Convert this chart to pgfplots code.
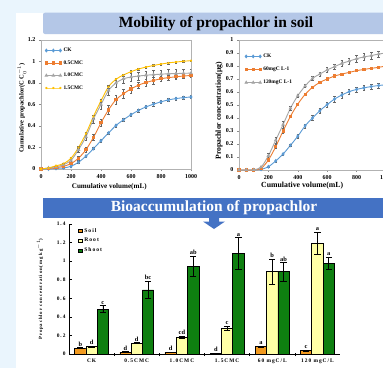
\documentclass[border=0pt]{standalone}
\usepackage{pgfplots}
\pgfplotsset{compat=1.18}
\usepackage{pgfplotstable}
\usepackage{fontspec}
\setmainfont{Liberation Serif}
\newfontfamily\spaced[LetterSpace=18]{Liberation Serif}
\definecolor{bgblue}{HTML}{EAF5FD}
\definecolor{banA}{HTML}{B4C7E7}
\definecolor{banB}{HTML}{4472C4}
\definecolor{ckblue}{HTML}{5B9BD5}
\definecolor{cmorange}{HTML}{ED7D31}
\definecolor{cmgray}{HTML}{A5A5A5}
\definecolor{cmyellow}{HTML}{FFC000}
\definecolor{soilc}{HTML}{F29A1F}
\definecolor{rootc}{HTML}{FFFFA6}
\definecolor{shootc}{HTML}{0E7F10}

\pgfplotstableread{
x ck ckE c05 c05E c10 c10E c15 c15E
0 0 0 0 0 0 0 0 0
50 0 0 0.005 0.002 0.01 0.003 0.01 0.003
100 0.005 0.002 0.012 0.003 0.02 0.005 0.03 0.005
150 0.01 0.003 0.025 0.005 0.04 0.008 0.05 0.006
200 0.025 0.004 0.05 0.008 0.08 0.012 0.10 0.008
250 0.063 0.006 0.10 0.015 0.18 0.02 0.20 0.01
300 0.12 0.008 0.18 0.02 0.30 0.03 0.33 0.012
350 0.19 0.01 0.295 0.03 0.465 0.04 0.49 0.015
400 0.263 0.012 0.43 0.035 0.60 0.04 0.635 0.015
450 0.335 0.012 0.55 0.04 0.73 0.04 0.765 0.012
500 0.405 0.015 0.645 0.045 0.80 0.04 0.835 0.01
550 0.458 0.015 0.70 0.04 0.84 0.04 0.875 0.01
600 0.505 0.015 0.745 0.035 0.855 0.04 0.905 0.01
650 0.545 0.015 0.78 0.03 0.865 0.04 0.93 0.008
700 0.578 0.015 0.805 0.03 0.872 0.04 0.948 0.008
750 0.603 0.015 0.823 0.03 0.878 0.04 0.963 0.008
800 0.625 0.015 0.84 0.025 0.882 0.04 0.976 0.008
850 0.643 0.015 0.85 0.025 0.886 0.04 0.987 0.008
900 0.655 0.015 0.858 0.02 0.888 0.04 0.995 0.008
950 0.664 0.015 0.865 0.02 0.89 0.04 1.002 0.008
1000 0.67 0.015 0.87 0.02 0.892 0.04 1.008 0.008
}\mobA

\pgfplotstableread{
x ck ckE a60 a60E a120 a120E
0 0 0 0 0 0 0
50 0 0 0 0 0 0
100 0 0 0 0 0.002 0.002
150 0.005 0.002 0.012 0.004 0.022 0.01
200 0.025 0.004 0.077 0.01 0.11 0.02
250 0.07 0.006 0.18 0.015 0.23 0.025
300 0.123 0.008 0.30 0.02 0.35 0.025
350 0.19 0.01 0.413 0.01 0.475 0.015
400 0.26 0.012 0.507 0.008 0.572 0.012
450 0.34 0.015 0.582 0.008 0.646 0.012
500 0.40 0.018 0.636 0.008 0.705 0.015
550 0.456 0.02 0.674 0.006 0.738 0.015
600 0.503 0.022 0.70 0.006 0.77 0.018
650 0.546 0.022 0.723 0.006 0.795 0.02
700 0.577 0.022 0.738 0.006 0.82 0.022
750 0.603 0.02 0.751 0.006 0.838 0.025
800 0.62 0.02 0.764 0.006 0.856 0.025
850 0.632 0.018 0.774 0.006 0.87 0.025
900 0.642 0.018 0.782 0.006 0.88 0.025
950 0.65 0.018 0.79 0.006 0.892 0.025
1000 0.656 0.018 0.80 0.006 0.90 0.025
}\mobB

\pgfplotstableread{
x soil soilE soilL root rootE rootL shoot shootE shootL
0 0.064 0.004 b 0.078 0.005 d 0.483 0.036 c
1 0.021 0.003 d 0.115 0.005 d 0.691 0.093 bc
2 0.018 0.003 d 0.178 0.015 cd 0.945 0.11 ab
3 0.005 0.002 d 0.276 0.024 c 1.084 0.17 a
4 0.079 0.006 a 0.886 0.135 b 0.886 0.10 ab
5 0.036 0.004 c 1.19 0.12 a 0.98 0.065 a
}\bardata

\pgfplotsset{
 lineax/.style={scale only axis, anchor=south west,
  axis line style={black!30}, tick style={black!45, line width=0.4pt},
  tick align=outside, major tick length=2pt,
  xtick pos=bottom, ytick pos=left,
  /pgf/number format/assume math mode=true,
  /pgf/number format/1000 sep={},
  ticklabel style={font=\bfseries\fontsize{6}{6}\selectfont},
  xtick={0,200,400,600,800,1000}, xmin=0, xmax=1000, ymin=0,
  legend cell align=left,
  legend image code/.code={\draw[##1] plot coordinates {(0pt,0pt) (7pt,0pt) (14pt,0pt)};},
 },
 errsty/.style={error bars/.cd, y dir=both, y explicit,
  error bar style={black!60, line width=0.35pt, solid},
  error mark options={rotate=90, mark size=1.2pt, black!60, line width=0.35pt}},
}

\begin{document}
\begin{tikzpicture}[x=1pt,y=1pt]
\useasboundingbox (0,0) rectangle (383,368);
\clip (0,0) rectangle (383,368);
\fill[bgblue] (0,0) rectangle (383,368);
\fill[white] (16,0) rectangle (383,355.3);
\fill[banA, rounded corners=2pt] (43,334) rectangle (400,355.3);
\node[font=\bfseries\fontsize{15.5}{16}\selectfont] at (216,344.5) {Mobility of propachlor in soil};
\fill[banB] (43,149.7) rectangle (400,169.7);
\node[white, font=\bfseries\fontsize{15.5}{16}\selectfont] at (214,160) {Bioaccumulation of propachlor};
\fill[banB] (209,150) -- (219,150) -- (219,146.5) -- (225,146.5) -- (214,139) -- (203,146.5) -- (209,146.5) -- cycle;

% ---------- plot 1
\begin{axis}[lineax, at={(41pt,199pt)}, width=150pt, height=129pt, ymax=1.2,
  ytick={0,0.2,0.4,0.6,0.8,1,1.2},
  xlabel={Cumulative volume(mL)}, ylabel={Cumulative propachlor(C C$_0^{-1}$)},
  xlabel style={font=\bfseries\fontsize{7.1}{7}\selectfont, at={(axis description cs:0.455,-0.135)}, anchor=center},
  ylabel style={font=\bfseries\fontsize{6.5}{7}\selectfont, at={(axis description cs:-0.127,0.473)}, anchor=center, rotate=0},
  legend style={at={(axis description cs:0.027,0.955)}, anchor=north west, draw=none, fill=none,
    font=\bfseries\fontsize{5.4}{5.5}\selectfont, inner sep=0pt, row sep=3.4pt,
    /tikz/every even column/.append style={column sep=1pt}},
  ]
\addplot[ckblue, line width=0.9pt, smooth, mark=diamond*, mark size=1.3pt, errsty] table[x=x, y=ck, y error=ckE] {\mobA};
\addlegendentry{CK}
\addplot[cmorange, line width=0.9pt, smooth, mark=square*, mark size=1.1pt, errsty] table[x=x, y=c05, y error=c05E] {\mobA};
\addlegendentry{0.5CMC}
\addplot[cmgray, line width=0.9pt, smooth, mark=triangle*, mark size=1.3pt, errsty] table[x=x, y=c10, y error=c10E] {\mobA};
\addlegendentry{1.0CMC}
\addplot[cmyellow, line width=0.9pt, smooth, mark=x, mark size=1.1pt, errsty] table[x=x, y=c15, y error=c15E] {\mobA};
\addlegendentry{1.5CMC}
\end{axis}

% ---------- plot 2
\begin{axis}[lineax, at={(239pt,198pt)}, width=147pt, height=130pt, ymax=1,
  ytick={0,0.1,0.2,0.3,0.4,0.5,0.6,0.7,0.8,0.9,1},
  xlabel={Cumulative volume(mL)}, ylabel={Propachlor concentration(μg)},
  xlabel style={font=\bfseries\fontsize{7.8}{8}\selectfont, at={(axis description cs:0.43,-0.12)}, anchor=center},
  ylabel style={font=\bfseries\fontsize{7.7}{8}\selectfont, at={(axis description cs:-0.136,0.455)}, anchor=center, rotate=0},
  legend style={at={(axis description cs:0.04,0.91)}, anchor=north west, draw=none, fill=none,
    font=\bfseries\fontsize{5.4}{5.5}\selectfont, inner sep=0pt, row sep=4pt,
    /tikz/every even column/.append style={column sep=1pt}},
  ]
\addplot[ckblue, line width=0.9pt, smooth, mark=diamond*, mark size=1.3pt, errsty] table[x=x, y=ck, y error=ckE] {\mobB};
\addlegendentry{CK}
\addplot[cmorange, line width=0.9pt, smooth, mark=square*, mark size=1.1pt, errsty] table[x=x, y=a60, y error=a60E] {\mobB};
\addlegendentry{60mgC L-1}
\addplot[cmgray, line width=0.9pt, smooth, mark=triangle*, mark size=1.3pt, errsty] table[x=x, y=a120, y error=a120E] {\mobB};
\addlegendentry{120mgC L-1}
\end{axis}

% ---------- bar chart
\begin{axis}[at={(69pt,14pt)}, anchor=south west, scale only axis, width=271pt, height=130pt,
  xmin=-0.5, xmax=5.5, ymin=0, ymax=1.4,
  axis lines*=left, axis line style={black, line width=0.6pt},
  ybar=0pt, bar width=11.3pt,
  xtick={0,1,2,3,4,5}, xticklabels={CK,0.5CMC,1.0CMC,1.5CMC,60 mgC/L,120 mgC/L},
  minor xtick={0.5,1.5,2.5,3.5,4.5},
  ytick={0,0.2,0.4,0.6,0.8,1,1.2,1.4},
  tick align=inside, major tick length=2.5pt, minor tick length=3pt,
  major x tick style={draw=none},
  minor x tick style={black, line width=0.5pt, yshift=-2pt},
  ytick style={black, line width=0.5pt},
  /pgf/number format/assume math mode=true,
  ticklabel style={font=\spaced\bfseries\fontsize{5.4}{6}\selectfont},
  xticklabel style={yshift=-1pt},
  ylabel={Propachlor concentration(mg kg$^{-1}$)},
  ylabel style={font=\spaced\bfseries\fontsize{4.8}{5}\selectfont, at={(axis description cs:-0.107,0.5)}, anchor=center, rotate=0},
  legend style={at={(axis description cs:0.033,0.985)}, anchor=north west, draw=none, fill=none,
    font=\spaced\bfseries\fontsize{5.6}{6}\selectfont, inner sep=0pt, row sep=0.6pt,
    /tikz/every even column/.append style={column sep=1.5pt}},
  legend cell align=left,
  legend image code/.code={\draw[#1, draw=black, line width=0.4pt] (0pt,-1.8pt) rectangle (3.8pt,1.8pt);},
  error bars/y dir=both, error bars/y explicit,
  error bars/error bar style={black, line width=0.75pt},
  error bars/error mark options={rotate=90, mark size=3.2pt, black, line width=0.75pt},
  point meta=explicit symbolic,
  nodes near coords,
  every node near coord/.append style={font=\bfseries\fontsize{6.4}{7}\selectfont, black, inner sep=1pt, yshift=\eoff*92.857pt},
  ]
\addplot[fill=soilc, draw=black, line width=0.6pt,
  visualization depends on={\thisrow{soilE}\as\eoff}]
  table[x=x, y=soil, y error=soilE, meta=soilL] {\bardata};
\addlegendentry{Soil}
\addplot[fill=rootc, draw=black, line width=0.6pt,
  visualization depends on={\thisrow{rootE}\as\eoff}]
  table[x=x, y=root, y error=rootE, meta=rootL] {\bardata};
\addlegendentry{Root}
\addplot[fill=shootc, draw=black, line width=0.6pt,
  visualization depends on={\thisrow{shootE}\as\eoff}]
  table[x=x, y=shoot, y error=shootE, meta=shootL] {\bardata};
\addlegendentry{Shoot}
\end{axis}
\end{tikzpicture}
\end{document}
